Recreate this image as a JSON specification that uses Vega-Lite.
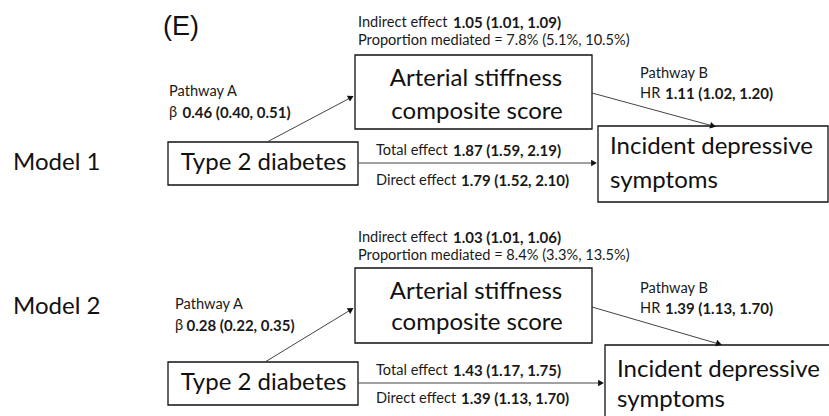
{
  "$schema": "https://vega.github.io/schema/vega-lite/v6.json",
  "width": 829,
  "height": 416,
  "padding": 0,
  "autosize": {"type": "fit", "contains": "padding"},
  "background": "white",
  "config": {"view": {"stroke": null}},
  "datasets": {
    "boxes": [
      {"name": "T2D m1", "x": 168, "x2": 358, "y": 142, "y2": 185},
      {"name": "Art m1", "x": 355, "x2": 592, "y": 55, "y2": 129},
      {"name": "Dep m1", "x": 598, "x2": 828, "y": 126, "y2": 202},
      {"name": "T2D m2", "x": 168, "x2": 358, "y": 362, "y2": 405},
      {"name": "Art m2", "x": 355, "x2": 592, "y": 268, "y2": 343},
      {"name": "Dep m2", "x": 605, "x2": 834, "y": 345, "y2": 430}
    ],
    "lines": [
      {"x": 267, "y": 142, "x2": 352, "y2": 97},
      {"x": 592, "y": 93, "x2": 713, "y2": 126},
      {"x": 358, "y": 163, "x2": 594, "y2": 163},
      {"x": 265, "y": 362, "x2": 352, "y2": 309},
      {"x": 592, "y": 307, "x2": 719, "y2": 344},
      {"x": 358, "y": 383, "x2": 601, "y2": 383}
    ],
    "heads": [
      {"x": 351, "y": 97.3, "angle": 332.4},
      {"x": 713, "y": 125.9, "angle": 15.2},
      {"x": 594, "y": 163, "angle": 0},
      {"x": 351, "y": 309.5, "angle": 328.6},
      {"x": 719, "y": 343.9, "angle": 16.2},
      {"x": 601, "y": 383, "angle": 0}
    ],
    "smallRegular": [
      {"text": "Indirect effect", "x": 358, "y": 22.5},
      {"text": "Proportion mediated = 7.8% (5.1%, 10.5%)", "x": 358, "y": 41},
      {"text": "Pathway A", "x": 169, "y": 92},
      {"text": "β", "x": 169, "y": 113},
      {"text": "Pathway B", "x": 640, "y": 73.5},
      {"text": "HR", "x": 640, "y": 93.5},
      {"text": "Total effect", "x": 376, "y": 150.5},
      {"text": "Direct effect", "x": 376, "y": 180.5},
      {"text": "Indirect effect", "x": 358, "y": 237.5},
      {"text": "Proportion mediated = 8.4% (3.3%, 13.5%)", "x": 358, "y": 256},
      {"text": "Pathway A", "x": 175, "y": 305},
      {"text": "β", "x": 175, "y": 326},
      {"text": "Pathway B", "x": 640, "y": 289},
      {"text": "HR", "x": 640, "y": 308.5},
      {"text": "Total effect", "x": 376, "y": 371},
      {"text": "Direct effect", "x": 376, "y": 399}
    ],
    "smallBold": [
      {"text": "1.05 (1.01, 1.09)", "x": 453, "y": 22.5},
      {"text": "0.46 (0.40, 0.51)", "x": 182.5, "y": 113},
      {"text": "1.11 (1.02, 1.20)", "x": 665, "y": 93.5},
      {"text": "1.87 (1.59, 2.19)", "x": 453, "y": 150.5},
      {"text": "1.79 (1.52, 2.10)", "x": 461, "y": 180.5},
      {"text": "1.03 (1.01, 1.06)", "x": 453, "y": 237.5},
      {"text": "0.28 (0.22, 0.35)", "x": 186.5, "y": 326},
      {"text": "1.39 (1.13, 1.70)", "x": 665, "y": 308.5},
      {"text": "1.43 (1.17, 1.75)", "x": 453, "y": 371},
      {"text": "1.39 (1.13, 1.70)", "x": 461, "y": 399}
    ],
    "bigCenter": [
      {"text": "Arterial stiffness", "x": 476, "y": 79},
      {"text": "composite score", "x": 477, "y": 112},
      {"text": "Type 2 diabetes", "x": 263.5, "y": 163},
      {"text": "Arterial stiffness", "x": 476, "y": 292},
      {"text": "composite score", "x": 477, "y": 323},
      {"text": "Type 2 diabetes", "x": 263.5, "y": 383}
    ],
    "bigLeft": [
      {"text": "Incident depressive", "x": 610, "y": 147},
      {"text": "symptoms", "x": 610, "y": 181},
      {"text": "Incident depressive", "x": 617, "y": 370},
      {"text": "symptoms", "x": 617, "y": 400},
      {"text": "Model 1", "x": 13, "y": 163},
      {"text": "Model 2", "x": 13, "y": 307}
    ],
    "panel": [
      {"text": "(E)", "x": 163, "y": 27}
    ]
  },
  "encoding": {
    "x": {"field": "x", "type": "quantitative", "axis": null, "scale": {"domain": [0, 829], "nice": false, "zero": false}},
    "y": {"field": "y", "type": "quantitative", "axis": null, "scale": {"domain": [0, 416], "nice": false, "zero": false, "reverse": true}}
  },
  "layer": [
    {
      "data": {"name": "boxes"},
      "mark": {"type": "rect", "fill": "white", "stroke": "#111", "strokeWidth": 1.3, "clip": true},
      "encoding": {
        "x2": {"field": "x2"},
        "y2": {"field": "y2"}
      }
    },
    {
      "data": {"name": "lines"},
      "mark": {"type": "rule", "stroke": "#444", "strokeWidth": 1},
      "encoding": {
        "x2": {"field": "x2"},
        "y2": {"field": "y2"}
      }
    },
    {
      "data": {"name": "heads"},
      "mark": {"type": "point", "shape": "triangle-right", "filled": true, "color": "#111", "size": 45, "opacity": 1},
      "encoding": {
        "angle": {"field": "angle", "type": "quantitative", "scale": null}
      }
    },
    {
      "data": {"name": "smallRegular"},
      "mark": {"type": "text", "align": "left", "baseline": "middle", "font": "Lato", "fontSize": 14.6, "color": "#1a1a1a"},
      "encoding": {"text": {"field": "text"}}
    },
    {
      "data": {"name": "smallBold"},
      "mark": {"type": "text", "align": "left", "baseline": "middle", "font": "Lato", "fontSize": 15, "fontWeight": "bold", "color": "#1a1a1a"},
      "encoding": {"text": {"field": "text"}}
    },
    {
      "data": {"name": "bigCenter"},
      "mark": {"type": "text", "align": "center", "baseline": "middle", "font": "Lato", "fontSize": 24, "color": "#111"},
      "encoding": {"text": {"field": "text"}}
    },
    {
      "data": {"name": "bigLeft"},
      "mark": {"type": "text", "align": "left", "baseline": "middle", "font": "Lato", "fontSize": 24, "color": "#111"},
      "encoding": {"text": {"field": "text"}}
    },
    {
      "data": {"name": "panel"},
      "mark": {"type": "text", "align": "left", "baseline": "middle", "font": "Liberation Sans", "fontSize": 27, "color": "#111"},
      "encoding": {"text": {"field": "text"}}
    }
  ]
}
